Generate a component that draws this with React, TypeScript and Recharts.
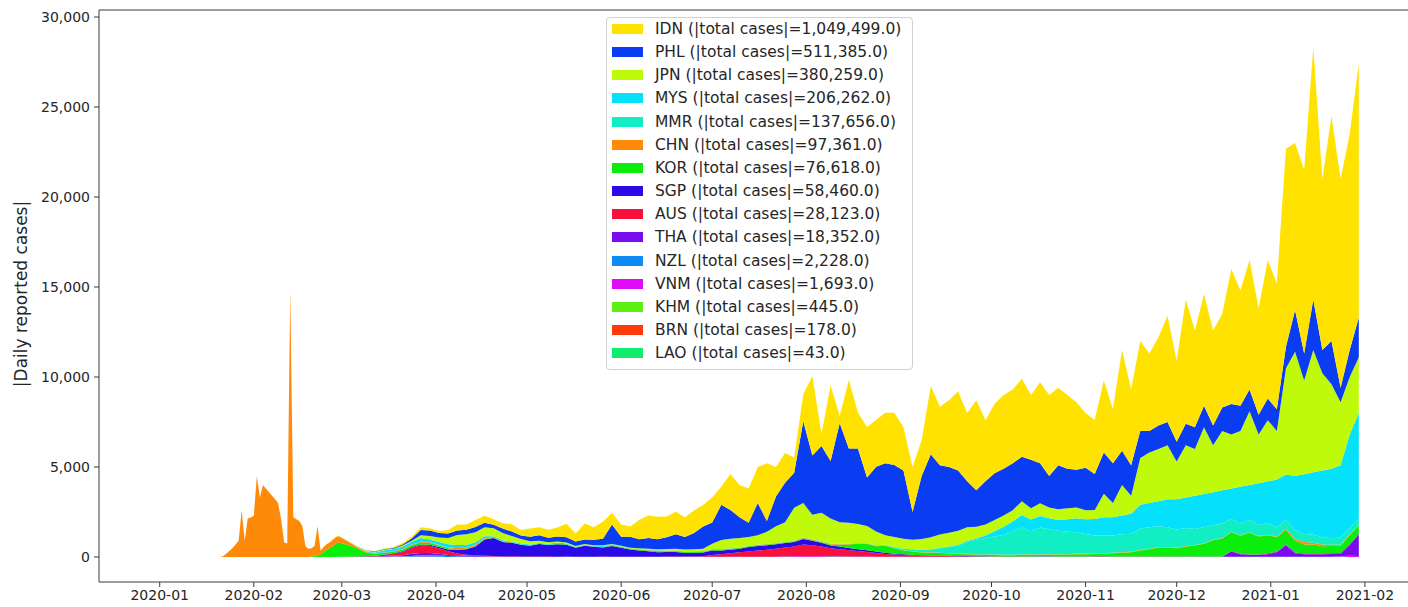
import React from 'react';
import { AreaChart, Area, XAxis, YAxis, ReferenceLine } from 'recharts';

// day offsets from 2020-01-01 (daily through the CHN wave, then every 3 days)
const days = [
  20, 21, 22, 23, 24, 25, 26, 27, 28, 29, 30, 31, 32,
  33, 34, 35, 36, 37, 38, 39, 40, 41, 42, 43, 44, 45,
  46, 47, 48, 49, 50, 51, 52, 53, 54, 55, 56, 57, 58,
  59, 62, 65, 68, 71, 74, 77, 80, 83, 86,
  89, 92, 95, 98, 101, 104, 107, 110, 113, 116,
  119, 122, 125, 128, 131, 134, 137, 140, 143, 146,
  149, 152, 155, 158, 161, 164, 167, 170, 173, 176,
  179, 182, 185, 188, 191, 194, 197, 200, 203, 206,
  209, 212, 215, 218, 221, 224, 227, 230, 233, 236,
  239, 242, 245, 248, 251, 254, 257, 260, 263, 266,
  269, 272, 275, 278, 281, 284, 287, 290, 293, 296,
  299, 302, 305, 308, 311, 314, 317, 320, 323, 326,
  329, 332, 335, 338, 341, 344, 347, 350, 353, 356,
  359, 362, 365, 368, 371, 374, 377, 380, 383, 386,
  389, 392, 395,
];

const IDN = [
  0, 0, 0, 0, 0, 0, 0, 0, 0, 0, 0, 0, 0,
  0, 0, 0, 0, 0, 0, 0, 0, 0, 0, 0, 0, 0,
  0, 0, 0, 0, 0, 0, 0, 0, 0, 0, 0, 0, 0,
  0, 0, 2, 2, 15, 30, 50, 80, 100, 150,
  130, 110, 190, 330, 290, 380, 400, 300, 300, 400,
  300, 450, 450, 450, 500, 750, 450, 900, 700, 950,
  650, 680, 580, 1080, 1250, 1250, 1150, 1250, 1100, 1250,
  1200, 1400, 1000, 2000, 1800, 1900, 2000, 3200, 1650, 1660,
  850, 1500, 4400, 670, 4200, 400, 3800, 2000, 2800, 2600,
  2800, 2900, 2400, 2500, 2000, 3800, 3250, 3700, 4400, 3800,
  5000, 3400, 3850, 4100, 4100, 4330, 3600, 4500, 4500, 4300,
  4100, 3750, 3050, 3000, 4000, 3000, 5600, 4200, 5000, 4300,
  4900, 5900, 4500, 6900, 5400, 6200, 5300, 5200, 7500, 6400,
  7200, 5900, 7700, 7000, 11000, 9300, 10200, 14000, 9500, 12500,
  11600, 12000, 14100,
];

const PHL = [
  0, 0, 0, 0, 0, 0, 0, 0, 0, 0, 0, 0, 0,
  0, 0, 0, 0, 0, 0, 0, 0, 0, 0, 0, 0, 0,
  0, 0, 0, 0, 0, 0, 0, 0, 0, 0, 0, 0, 0,
  0, 2, 2, 5, 20, 30, 40, 60, 120, 300,
  300, 250, 250, 250, 250, 300, 250, 200, 250, 250,
  200, 250, 300, 250, 280, 300, 250, 250, 300, 350,
  1080, 500, 600, 500, 600, 550, 650, 800, 700, 900,
  1230, 1170, 1960, 1600, 1150, 800, 1800, 600, 1650, 2200,
  1950, 4550, 3300, 3700, 3200, 5500, 4130, 4200, 2700, 3600,
  4000, 4000, 3800, 1550, 3500, 4600, 3850, 3650, 3350, 2550,
  2030, 2400, 2600, 2600, 2600, 2470, 2700, 2220, 1750, 2450,
  2200, 2100, 2350, 2000, 2300, 2200, 1900, 1700, 1500, 1200,
  1300, 1300, 1100, 1200, 1200, 1200, 1100, 1300, 1700, 1400,
  1200, 1100, 1200, 1200, 1200, 2300, 1500, 2800, 1300, 2400,
  800, 1500, 2200,
];

const JPN = [
  0, 0, 0, 0, 0, 0, 0, 0, 0, 0, 0, 0, 0,
  0, 0, 0, 0, 0, 0, 0, 0, 0, 0, 0, 0, 5,
  5, 5, 10, 10, 10, 10, 15, 15, 15, 20, 20, 20, 20,
  20, 30, 40, 50, 50, 40, 40, 50, 60, 150,
  200, 250, 350, 550, 600, 550, 500, 450, 400, 300,
  250, 180, 120, 80, 60, 50, 40, 30, 30, 40,
  30, 30, 40, 40, 50, 60, 80, 100, 100, 120,
  130, 300, 500, 520, 525, 475, 525, 675, 925, 1070,
  1820, 1910, 1360, 1580, 1390, 1200, 1145, 1050, 950, 765,
  530, 550, 545, 525, 605, 675, 745, 765, 775, 770,
  640, 615, 620, 630, 630, 770, 620, 700, 600, 600,
  600, 600, 500, 500, 1300, 800, 1700, 1000, 2600, 2800,
  2900, 3000, 2100, 2900, 2600, 3700, 2600, 3300, 3000, 3100,
  4100, 2700, 3400, 2700, 5900, 6900, 5200, 6800, 5400, 4700,
  3500, 3200, 3100,
];

const MYS = [
  0, 0, 0, 0, 0, 0, 0, 0, 0, 0, 0, 0, 0,
  0, 0, 0, 0, 0, 0, 0, 0, 0, 0, 0, 0, 0,
  0, 0, 0, 0, 0, 0, 0, 0, 0, 0, 0, 0, 0,
  0, 5, 10, 20, 40, 120, 100, 130, 150, 200,
  150, 150, 180, 170, 150, 120, 100, 60, 50, 50,
  50, 50, 40, 50, 60, 40, 30, 40, 30, 60,
  30, 30, 20, 30, 20, 20, 20, 15, 10, 10,
  10, 10, 10, 10, 10, 10, 10, 10, 10, 15,
  15, 15, 15, 15, 15, 15, 20, 20, 20, 20,
  15, 15, 10, 10, 10, 20, 20, 30, 40, 60,
  80, 150, 300, 450, 550, 700, 650, 645, 605, 600,
  700, 775, 825, 915, 1005, 1015, 1045, 1115, 1315, 1345,
  1395, 1545, 1695, 1695, 1845, 1845, 1845, 1845, 1695, 2045,
  1935, 2330, 2315, 2665, 2500, 3000, 3325, 3455, 3705, 3865,
  4015, 5195, 5875,
];

const MMR = [
  0, 0, 0, 0, 0, 0, 0, 0, 0, 0, 0, 0, 0,
  0, 0, 0, 0, 0, 0, 0, 0, 0, 0, 0, 0, 0,
  0, 0, 0, 0, 0, 0, 0, 0, 0, 0, 0, 0, 0,
  0, 0, 0, 0, 0, 0, 0, 0, 2, 3,
  5, 5, 3, 5, 5, 5, 3, 3, 2, 2,
  1, 1, 1, 0, 0, 0, 0, 1, 1, 1,
  1, 1, 1, 2, 2, 2, 2, 2, 2, 2,
  2, 3, 3, 3, 3, 3, 3, 3, 3, 3,
  3, 3, 3, 3, 3, 5, 5, 5, 5, 10,
  20, 40, 80, 100, 120, 150, 250, 350, 450, 650,
  800, 900, 1000, 1100, 1300, 1500, 1300, 1500, 1400, 1300,
  1250, 1200, 1100, 1000, 1000, 950, 1000, 1000, 1200, 1200,
  1150, 1100, 1000, 1000, 900, 900, 800, 800, 700, 650,
  700, 600, 650, 500, 500, 500, 450, 450, 400, 350,
  400, 350, 350,
];

const CHN = [
  0, 50, 200, 350, 500, 700, 900, 2600, 900, 2150, 2200, 2300, 4500,
  3300, 4000, 3800, 3600, 3400, 3200, 3000, 2100, 800, 750, 14800, 2200, 2100,
  2000, 1700, 600, 450, 450, 550, 1600, 200, 300, 300, 300, 350, 350,
  350, 200, 80, 40, 25, 20, 30, 40, 40, 50,
  40, 40, 40, 60, 50, 80, 50, 20, 20, 20,
  10, 10, 5, 5, 5, 5, 5, 5, 5, 5,
  5, 5, 5, 10, 20, 30, 20, 20, 20, 20,
  20, 20, 20, 20, 20, 20, 20, 20, 20, 20,
  20, 30, 30, 30, 30, 30, 30, 25, 20, 20,
  20, 20, 20, 20, 20, 20, 20, 20, 20, 20,
  20, 20, 20, 20, 20, 20, 20, 20, 20, 20,
  20, 25, 25, 25, 25, 25, 25, 25, 25, 25,
  25, 25, 25, 25, 25, 25, 25, 25, 25, 25,
  25, 30, 30, 40, 80, 100, 130, 100, 100, 80,
  60, 50, 30,
];

const KOR = [
  0, 0, 0, 0, 0, 0, 0, 0, 0, 0, 0, 0, 0,
  0, 0, 0, 0, 0, 0, 0, 0, 0, 0, 0, 0, 0,
  0, 0, 0, 0, 30, 60, 100, 150, 250, 400, 500, 600, 750,
  800, 650, 450, 200, 110, 90, 90, 100, 100, 100,
  90, 80, 70, 40, 30, 25, 20, 15, 15, 10,
  10, 10, 10, 10, 20, 30, 20, 20, 20, 30,
  40, 40, 40, 40, 50, 50, 50, 50, 50, 50,
  50, 50, 50, 50, 40, 40, 40, 40, 40, 40,
  40, 40, 40, 50, 60, 100, 200, 300, 350, 300,
  400, 300, 200, 170, 150, 150, 130, 120, 110, 100,
  90, 80, 80, 70, 70, 80, 80, 80, 90, 100,
  100, 120, 120, 130, 140, 180, 200, 230, 330, 400,
  500, 500, 450, 550, 600, 700, 900, 1000, 1050, 1000,
  1200, 1000, 1000, 800, 800, 650, 500, 500, 400, 400,
  400, 500, 450,
];

const SGP = [
  0, 0, 0, 0, 0, 0, 0, 0, 0, 0, 0, 0, 0,
  0, 0, 3, 3, 3, 3, 3, 3, 3, 3, 3, 3, 3,
  3, 3, 3, 3, 3, 3, 3, 3, 3, 3, 3, 3, 3,
  5, 5, 10, 10, 15, 20, 30, 40, 50, 50,
  60, 70, 100, 200, 300, 500, 900, 1000, 800, 750,
  650, 600, 700, 650, 700, 650, 500, 600, 550, 500,
  600, 500, 400, 350, 300, 250, 250, 250, 200, 200,
  200, 250, 200, 200, 200, 250, 250, 250, 250, 250,
  250, 300, 250, 200, 150, 150, 120, 100, 100, 80,
  60, 50, 40, 40, 30, 30, 30, 20, 20, 20,
  15, 15, 10, 10, 10, 10, 10, 10, 10, 10,
  10, 10, 10, 10, 10, 10, 10, 10, 10, 10,
  10, 10, 10, 10, 10, 10, 10, 10, 15, 15,
  15, 15, 20, 20, 30, 30, 30, 30, 30, 30,
  30, 30, 30,
];

const AUS = [
  0, 0, 0, 0, 0, 0, 0, 0, 0, 0, 0, 0, 0,
  0, 0, 0, 0, 0, 0, 0, 0, 0, 0, 0, 0, 0,
  0, 0, 0, 0, 0, 0, 0, 0, 0, 0, 0, 0, 0,
  3, 10, 15, 20, 30, 60, 90, 180, 320, 430,
  400, 300, 200, 100, 60, 40, 30, 20, 15, 15,
  15, 15, 20, 15, 10, 15, 10, 15, 15, 15,
  10, 10, 10, 10, 10, 15, 20, 20, 25, 30,
  40, 100, 150, 200, 250, 300, 350, 400, 450, 500,
  550, 650, 600, 550, 450, 400, 350, 300, 250, 200,
  150, 120, 100, 80, 60, 50, 50, 40, 30, 25,
  20, 15, 15, 15, 15, 15, 15, 15, 15, 10,
  10, 10, 10, 10, 10, 10, 10, 10, 10, 10,
  10, 10, 10, 10, 10, 10, 10, 10, 10, 10,
  20, 20, 30, 20, 20, 15, 10, 10, 10, 10,
  10, 10, 10,
];

const THA = [
  0, 0, 0, 0, 0, 0, 0, 0, 0, 0, 0, 0, 0,
  0, 0, 0, 0, 0, 0, 0, 0, 0, 0, 0, 0, 0,
  0, 0, 0, 0, 0, 0, 0, 0, 0, 0, 0, 0, 0,
  0, 1, 2, 3, 10, 30, 50, 60, 120, 130,
  120, 100, 60, 50, 40, 30, 30, 20, 20, 15,
  10, 10, 5, 5, 5, 5, 3, 3, 3, 5,
  5, 3, 3, 3, 3, 3, 3, 3, 3, 3,
  5, 5, 5, 5, 5, 5, 5, 5, 5, 5,
  5, 5, 5, 5, 5, 5, 5, 5, 5, 5,
  5, 5, 5, 5, 5, 5, 5, 5, 5, 5,
  5, 5, 5, 5, 5, 5, 5, 5, 5, 5,
  5, 5, 5, 5, 5, 5, 5, 5, 5, 5,
  5, 5, 5, 5, 5, 5, 5, 5, 300, 150,
  100, 100, 150, 250, 650, 200, 150, 150, 150, 150,
  150, 600, 1200,
];

const NZL = [
  0, 0, 0, 0, 0, 0, 0, 0, 0, 0, 0, 0, 0,
  0, 0, 0, 0, 0, 0, 0, 0, 0, 0, 0, 0, 0,
  0, 0, 0, 0, 0, 0, 0, 0, 0, 0, 0, 0, 0,
  0, 0, 1, 2, 2, 5, 10, 15, 40, 70,
  80, 70, 50, 40, 30, 20, 15, 10, 5, 5,
  3, 2, 1, 1, 0, 0, 0, 0, 0, 0,
  0, 0, 0, 0, 1, 1, 1, 1, 1, 1,
  1, 1, 1, 1, 1, 1, 1, 1, 1, 1,
  1, 1, 1, 1, 5, 10, 5, 5, 5, 5,
  5, 5, 5, 3, 2, 2, 2, 2, 2, 2,
  2, 2, 2, 2, 2, 2, 2, 5, 5, 5,
  5, 5, 5, 5, 5, 5, 5, 5, 5, 5,
  5, 5, 5, 5, 5, 5, 5, 5, 5, 5,
  5, 5, 5, 5, 5, 5, 5, 5, 5, 5,
  5, 5, 5,
];

const VNM = [
  0, 0, 0, 0, 0, 0, 0, 0, 0, 0, 0, 0, 0,
  0, 0, 0, 0, 0, 0, 0, 0, 0, 0, 0, 0, 0,
  0, 0, 0, 0, 0, 0, 0, 0, 0, 0, 0, 0, 0,
  0, 0, 2, 5, 5, 10, 10, 10, 10, 15,
  20, 10, 5, 3, 1, 0, 0, 0, 0, 0,
  0, 0, 0, 0, 0, 5, 2, 2, 1, 1,
  1, 1, 0, 0, 0, 0, 0, 1, 1, 0,
  1, 1, 1, 1, 1, 1, 1, 1, 1, 20,
  30, 40, 40, 30, 30, 20, 20, 20, 15, 10,
  10, 5, 5, 3, 2, 2, 2, 2, 2, 2,
  2, 2, 2, 2, 2, 2, 2, 2, 2, 2,
  2, 2, 2, 2, 2, 2, 2, 2, 2, 2,
  2, 2, 2, 2, 2, 2, 2, 2, 2, 2,
  2, 2, 2, 2, 2, 2, 2, 2, 2, 10,
  30, 60, 50,
];

const KHM = [
  0, 0, 0, 0, 0, 0, 0, 0, 0, 0, 0, 0, 0,
  0, 0, 0, 0, 0, 0, 0, 0, 0, 0, 0, 0, 0,
  0, 0, 0, 0, 0, 0, 0, 0, 0, 0, 0, 0, 0,
  0, 0, 0, 0, 2, 5, 10, 10, 5, 3,
  2, 1, 0, 0, 0, 0, 0, 0, 0, 0,
  0, 0, 0, 0, 0, 0, 0, 0, 0, 0,
  0, 0, 0, 0, 0, 0, 0, 0, 0, 0,
  0, 0, 0, 0, 0, 0, 0, 0, 0, 0,
  0, 0, 0, 0, 0, 0, 0, 0, 0, 0,
  0, 0, 0, 0, 0, 0, 0, 0, 0, 0,
  0, 0, 0, 0, 0, 0, 0, 0, 0, 0,
  0, 0, 2, 5, 5, 2, 0, 0, 0, 0,
  0, 0, 0, 0, 0, 0, 0, 0, 0, 0,
  0, 0, 0, 0, 0, 0, 0, 0, 0, 0,
  0, 0, 0,
];

const BRN = [
  0, 0, 0, 0, 0, 0, 0, 0, 0, 0, 0, 0, 0,
  0, 0, 0, 0, 0, 0, 0, 0, 0, 0, 0, 0, 0,
  0, 0, 0, 0, 0, 0, 0, 0, 0, 0, 0, 0, 0,
  0, 0, 0, 1, 5, 10, 5, 5, 2, 2,
  1, 1, 1, 1, 0, 0, 0, 0, 0, 0,
  0, 0, 0, 0, 0, 0, 0, 0, 0, 0,
  0, 0, 0, 0, 0, 0, 0, 0, 0, 0,
  0, 0, 0, 0, 0, 0, 0, 0, 0, 0,
  0, 0, 0, 0, 0, 0, 0, 0, 0, 0,
  0, 0, 0, 0, 0, 0, 0, 0, 0, 0,
  0, 0, 0, 0, 0, 0, 0, 0, 0, 0,
  0, 0, 0, 0, 0, 0, 0, 0, 0, 0,
  0, 0, 0, 0, 0, 0, 0, 0, 0, 0,
  0, 0, 0, 0, 0, 0, 0, 0, 0, 0,
  0, 0, 0,
];

const LAO = [
  0, 0, 0, 0, 0, 0, 0, 0, 0, 0, 0, 0, 0,
  0, 0, 0, 0, 0, 0, 0, 0, 0, 0, 0, 0, 0,
  0, 0, 0, 0, 0, 0, 0, 0, 0, 0, 0, 0, 0,
  0, 0, 0, 0, 0, 0, 0, 0, 2, 1,
  1, 1, 0, 0, 0, 0, 0, 0, 0, 0,
  0, 0, 0, 0, 0, 0, 0, 0, 0, 0,
  0, 0, 0, 0, 0, 0, 0, 0, 0, 0,
  0, 0, 0, 0, 0, 0, 0, 0, 0, 0,
  0, 0, 0, 0, 0, 0, 0, 0, 0, 0,
  0, 0, 0, 0, 0, 0, 0, 0, 0, 0,
  0, 0, 0, 0, 0, 0, 0, 0, 0, 0,
  0, 0, 0, 0, 0, 0, 0, 0, 0, 0,
  0, 0, 0, 0, 0, 0, 0, 0, 0, 0,
  0, 0, 0, 0, 0, 0, 0, 0, 0, 0,
  0, 0, 0,
];

// totals shown in the legend
const totals = {
  IDN: '1,049,499.0', PHL: '511,385.0', JPN: '380,259.0', MYS: '206,262.0',
  MMR: '137,656.0', CHN: '97,361.0', KOR: '76,618.0', SGP: '58,460.0',
  AUS: '28,123.0', THA: '18,352.0', NZL: '2,228.0', VNM: '1,693.0',
  KHM: '445.0', BRN: '178.0', LAO: '43.0',
};

const monthTicks = [0, 31, 60, 91, 121, 152, 182, 213, 244, 274, 305, 335, 366, 397];
const monthLabels = [
  '2020-01', '2020-02', '2020-03', '2020-04', '2020-05', '2020-06', '2020-07',
  '2020-08', '2020-09', '2020-10', '2020-11', '2020-12', '2021-01', '2021-02',
];
const yTicks = [0, 5000, 10000, 15000, 20000, 25000, 30000];

// stack order, bottom first
const series = [
  { key: 'LAO', color: '#10EC6E', values: LAO },
  { key: 'BRN', color: '#FF3A0A', values: BRN },
  { key: 'KHM', color: '#5CEF12', values: KHM },
  { key: 'VNM', color: '#E00CF6', values: VNM },
  { key: 'NZL', color: '#0E8BF5', values: NZL },
  { key: 'THA', color: '#7A0BEF', values: THA },
  { key: 'AUS', color: '#F8103C', values: AUS },
  { key: 'SGP', color: '#2A0AE6', values: SGP },
  { key: 'KOR', color: '#0BEE0B', values: KOR },
  { key: 'CHN', color: '#FF8A0A', values: CHN },
  { key: 'MMR', color: '#12EEC4', values: MMR },
  { key: 'MYS', color: '#05E1FA', values: MYS },
  { key: 'JPN', color: '#BEFA0A', values: JPN },
  { key: 'PHL', color: '#0A3CF2', values: PHL },
  { key: 'IDN', color: '#FFE200', values: IDN },
];

const data = days.map((day, i) => {
  const row: Record<string, number> = { day };
  series.forEach((s) => {
    row[s.key] = s.values[i];
  });
  return row;
});

const FONT = 'DejaVu Sans';
const TEXT = '#262626';
const SPINE = '#3a3a3a';
const Y_MIN = -1389;
const Y_MAX = 30389;

const YLabel = () => (
  <text
    x={21}
    y={294}
    transform="rotate(-90, 21, 294)"
    textAnchor="middle"
    dominantBaseline="central"
    fontSize={17}
    fontFamily={FONT}
    fill={TEXT}
  >
    |Daily reported cases|
  </text>
);

const LegendBox = () => (
  <div
    style={{
      position: 'absolute',
      left: 606,
      top: 17,
      width: 307,
      height: 353,
      boxSizing: 'border-box',
      border: '1px solid #d0d0d0',
      borderRadius: 4,
      background: 'rgba(255,255,255,0.8)',
      fontFamily: FONT,
      fontSize: 15.5,
      color: TEXT,
    }}
  >
    {[...series].reverse().map((s, i) => (
      <div
        key={s.key}
        style={{
          position: 'absolute',
          left: 0,
          top: 11 + 23.15 * i - 11.5,
          height: 23,
          width: '100%',
          display: 'flex',
          alignItems: 'center',
        }}
      >
        <span
          style={{
            position: 'absolute',
            left: 5,
            width: 31,
            height: 10,
            background: s.color,
          }}
        />
        <span style={{ position: 'absolute', left: 48, whiteSpace: 'nowrap' }}>
          {`${s.key} (|total cases|=${totals[s.key as keyof typeof totals]})`}
        </span>
      </div>
    ))}
  </div>
);

const App: React.FC = () => {
  return (
    <div style={{ position: 'absolute', left: 0, top: 0, width: 1408, height: 607, background: '#fff' }}>
      <AreaChart
        width={1408}
        height={607}
        data={data}
        margin={{ top: 10, right: 0, bottom: 0, left: 0 }}
      >
        <XAxis
          type="number"
          dataKey="day"
          domain={[-20, 411.2]}
          allowDataOverflow
          ticks={monthTicks}
          interval={0}
          tickFormatter={(v: number) => monthLabels[monthTicks.indexOf(v)]}
          height={25}
          tickSize={5}
          tickMargin={3}
          stroke={SPINE}
          tick={{ fill: TEXT, fontSize: 14, fontFamily: FONT }}
        />
        <YAxis
          type="number"
          domain={[Y_MIN, Y_MAX]}
          allowDataOverflow
          ticks={yTicks}
          interval={0}
          width={99}
          tickSize={5}
          tickMargin={4}
          stroke={SPINE}
          tickFormatter={(v: number) => v.toLocaleString('en-US')}
          tick={{ fill: TEXT, fontSize: 14, fontFamily: FONT }}
          label={<YLabel />}
        />
        <ReferenceLine y={Y_MAX} stroke={SPINE} strokeWidth={1} />
        {series.map((s) => (
          <Area
            key={s.key}
            type="linear"
            dataKey={s.key}
            stackId="all"
            stroke="none"
            fill={s.color}
            fillOpacity={1}
            dot={false}
            activeDot={false}
            isAnimationActive={false}
          />
        ))}
      </AreaChart>
      <LegendBox />
    </div>
  );
};

export default App;
